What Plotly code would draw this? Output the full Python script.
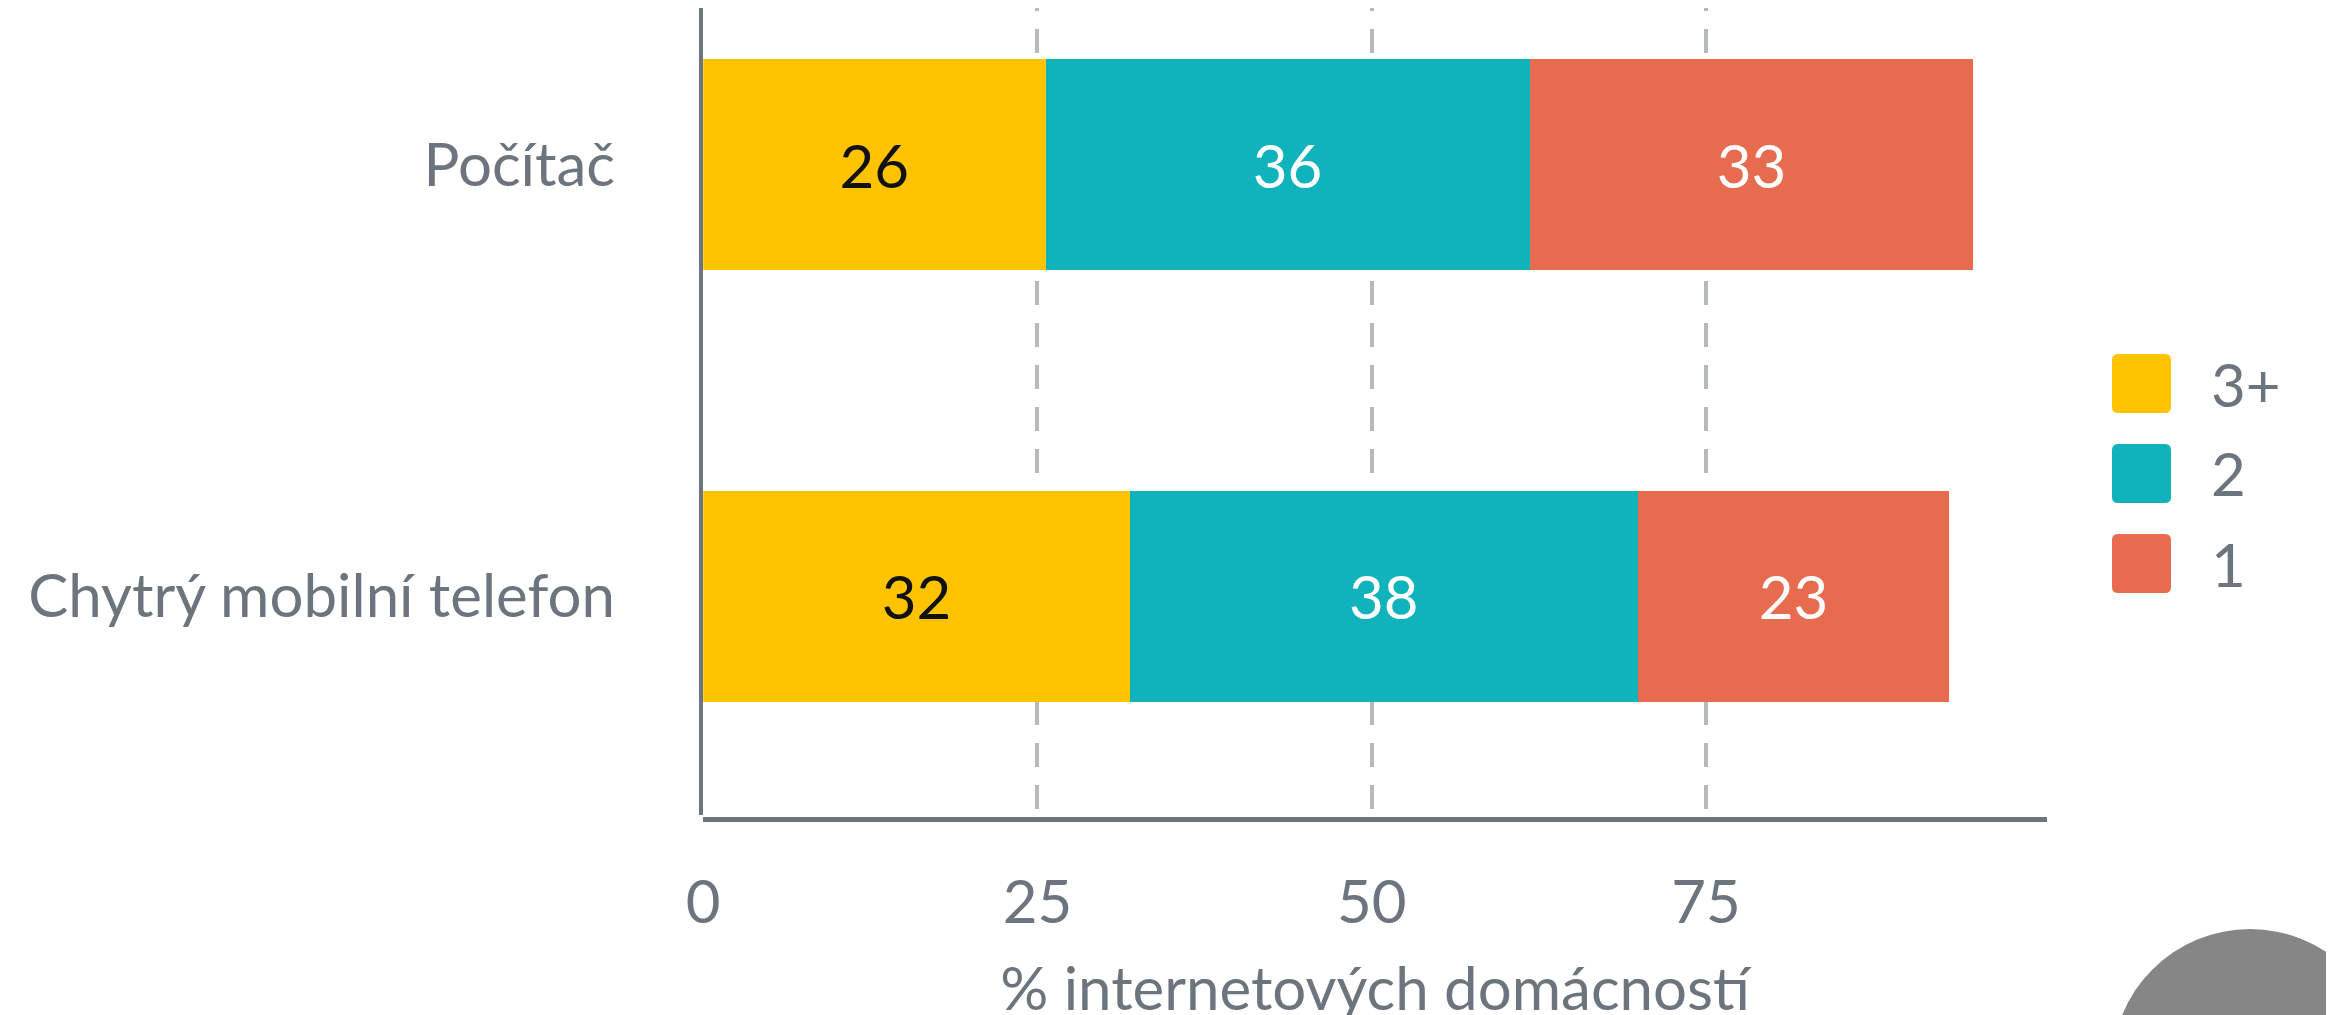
import plotly.graph_objects as go

# ---- data ----
categories = ["Chytrý mobilní telefon", "Počítač"]
series_names = ["3+", "2", "1"]
values_3plus = [31.9, 25.6]
values_2 = [38.0, 36.2]
values_1 = [23.3, 33.2]
x_tickvals = [0, 25, 50, 75]
x_title = "% internetových domácností"

series_values = [values_3plus, values_2, values_1]
colors = ["#FFC300", "#10B3BC", "#E76B4E"]
text_colors = ["#111111", "#ffffff", "#ffffff"]

W, H = 2334, 1015
OFF = 8  # page offset of the figure (body margin)
GRAY = "#6c757d"
FONT = "Lato"

fig = go.Figure()
for name, vals, col, tcol in zip(series_names, series_values, colors, text_colors):
    fig.add_trace(go.Bar(
        y=categories, x=vals, name=name, orientation="h",
        marker=dict(color=col, line=dict(width=0)),
        texttemplate="%{x:.0f}", textposition="inside",
        insidetextanchor="middle", textangle=0,
        textfont=dict(family=FONT, size=60, color=tcol),
        showlegend=False, hoverinfo="x+y",
    ))

# dashed grid pattern (phase matched)
dash = "3px,18px," + ",".join(["24px,18px"] * 25)

def px_x(p):
    return (p - OFF) / W

def px_y(p):
    return 1 - (p - OFF) / H

fig.update_layout(
    width=W, height=H,
    barmode="stack", bargap=0.511,
    plot_bgcolor="white", paper_bgcolor="white",
    margin=dict(l=0, r=0, t=0, b=0, pad=0),
    font=dict(family=FONT, size=60, color=GRAY),
    xaxis=dict(
        domain=[px_x(703.2), px_x(2047)],
        range=[0, 100.5],
        anchor="free", position=px_y(819),
        tickvals=x_tickvals, ticktext=[str(v) for v in x_tickvals],
        ticks="", ticklabelstandoff=29,
        tickfont=dict(family=FONT, size=60, color=GRAY),
        showline=True, linecolor=GRAY, linewidth=5,
        showgrid=True, gridcolor="#b6babe", gridwidth=4, griddash=dash,
        zeroline=False, automargin=False,
        title=dict(text=x_title, font=dict(family=FONT, size=60, color=GRAY), standoff=56),
    ),
    yaxis=dict(
        domain=[px_y(815), 1],
        range=[-0.5063, 1.3624],
        type="category", categoryorder="array", categoryarray=categories,
        anchor="free", position=px_x(701),
        ticks="", ticklabelstandoff=72,
        tickfont=dict(family=FONT, size=60, color=GRAY),
        showline=True, linecolor=GRAY, linewidth=4,
        showgrid=False, zeroline=False, automargin=False,
    ),
)

# manual legend with rounded squares
shapes = []
annotations = []
for i, (name, col) in enumerate(zip(series_names, colors)):
    cy = 383.5 + 90 * i
    x0, x1 = 2112, 2171
    y0, y1 = cy - 29.5, cy + 29.5
    r = 6
    X = px_x
    Y = px_y
    path = (
        f"M{X(x0 + r)},{Y(y0)} L{X(x1 - r)},{Y(y0)} Q{X(x1)},{Y(y0)} {X(x1)},{Y(y0 + r)} "
        f"L{X(x1)},{Y(y1 - r)} Q{X(x1)},{Y(y1)} {X(x1 - r)},{Y(y1)} "
        f"L{X(x0 + r)},{Y(y1)} Q{X(x0)},{Y(y1)} {X(x0)},{Y(y1 - r)} "
        f"L{X(x0)},{Y(y0 + r)} Q{X(x0)},{Y(y0)} {X(x0 + r)},{Y(y0)} Z"
    )
    shapes.append(dict(type="path", xref="paper", yref="paper", path=path,
                       fillcolor=col, line=dict(width=0)))
    annotations.append(dict(xref="paper", yref="paper", x=px_x(2209), y=px_y(cy),
                            text=name, showarrow=False, xanchor="left", yanchor="middle",
                            font=dict(family=FONT, size=60, color=GRAY)))

# decorative gray circle at bottom-right
cx, cyc, rr = 2250, 1067, 138
shapes.append(dict(type="circle", xref="paper", yref="paper",
                   x0=px_x(cx - rr), x1=px_x(cx + rr), y0=px_y(cyc + rr), y1=px_y(cyc - rr),
                   fillcolor="#868686", line=dict(width=0), layer="above"))

fig.update_layout(shapes=shapes, annotations=annotations)

fig.write_html("out.html")
